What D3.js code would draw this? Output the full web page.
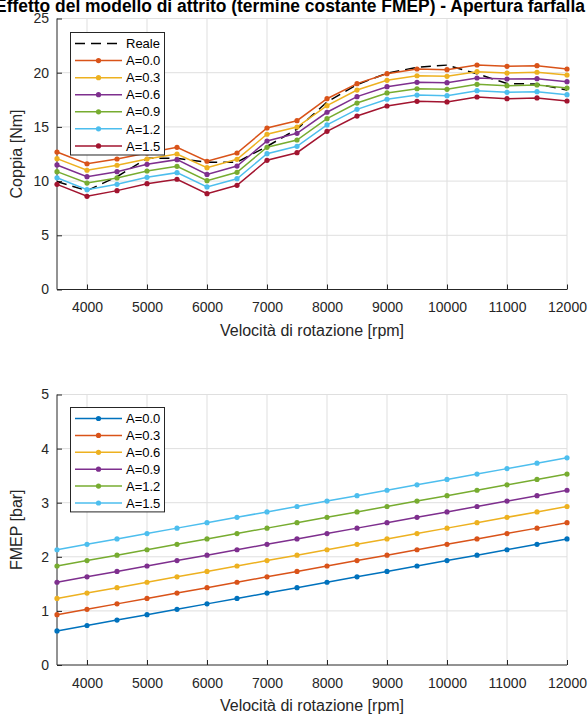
<!DOCTYPE html>
<html>
<head>
<meta charset="utf-8">
<script src="https://cdn.jsdelivr.net/npm/d3@7"></script>
<style>
  html, body { margin: 0; padding: 0; background: #fff; }
  svg { display: block; }
  text { font-family: Arial, "Liberation Sans", Helvetica, sans-serif; }
</style>
</head>
<body>
<svg id="chart" width="588" height="716"></svg>
<script>
// Engine speed sweep [rpm]
const rpm = [3500, 4000, 4500, 5000, 5500, 6000, 6500, 7000, 7500, 8000, 8500, 9000, 9500, 10000, 10500, 11000, 11500, 12000];

// Measured torque [Nm]
const torqueReale = [9.95, 9.12, 10.4, 12.1, 12.1, 11.75, 11.75, 13.2, 14.8, 17.3, 18.9, 19.95, 20.5, 20.7, 19.9, 19.0, 18.95, 18.4];

// Simulated torque [Nm] for each constant friction term A
const torqueA00 = [12.68, 11.60, 12.04, 12.60, 13.12, 11.83, 12.59, 14.90, 15.57, 17.60, 18.99, 19.91, 20.34, 20.28, 20.71, 20.59, 20.65, 20.34];
const torqueA03 = [12.07, 11.00, 11.46, 12.04, 12.50, 11.24, 12.01, 14.32, 14.99, 16.96, 18.40, 19.30, 19.72, 19.67, 20.09, 19.97, 20.04, 19.79];
const torqueA06 = [11.49, 10.41, 10.87, 11.55, 11.98, 10.62, 11.39, 13.70, 14.41, 16.35, 17.79, 18.71, 19.11, 19.08, 19.51, 19.42, 19.45, 19.17];
const torqueA09 = [10.87, 9.82, 10.29, 10.93, 11.36, 10.04, 10.81, 13.12, 13.79, 15.76, 17.20, 18.13, 18.52, 18.47, 18.93, 18.80, 18.87, 18.59];
const torqueA12 = [10.31, 9.21, 9.70, 10.35, 10.78, 9.46, 10.22, 12.53, 13.21, 15.18, 16.62, 17.55, 17.94, 17.88, 18.34, 18.19, 18.25, 17.97];
const torqueA15 = [9.70, 8.60, 9.12, 9.76, 10.17, 8.84, 9.61, 11.92, 12.62, 14.59, 16.00, 16.93, 17.36, 17.30, 17.76, 17.60, 17.67, 17.39];

// Friction mean effective pressure [bar] for each A
const fmepA00 = [0.63, 0.73, 0.83, 0.93, 1.03, 1.13, 1.23, 1.33, 1.43, 1.53, 1.63, 1.73, 1.83, 1.93, 2.03, 2.13, 2.23, 2.33];
const fmepA03 = [0.93, 1.03, 1.13, 1.23, 1.33, 1.43, 1.53, 1.63, 1.73, 1.83, 1.93, 2.03, 2.13, 2.23, 2.33, 2.43, 2.53, 2.63];
const fmepA06 = [1.23, 1.33, 1.43, 1.53, 1.63, 1.73, 1.83, 1.93, 2.03, 2.13, 2.23, 2.33, 2.43, 2.53, 2.63, 2.73, 2.83, 2.93];
const fmepA09 = [1.53, 1.63, 1.73, 1.83, 1.93, 2.03, 2.13, 2.23, 2.33, 2.43, 2.53, 2.63, 2.73, 2.83, 2.93, 3.03, 3.13, 3.23];
const fmepA12 = [1.83, 1.93, 2.03, 2.13, 2.23, 2.33, 2.43, 2.53, 2.63, 2.73, 2.83, 2.93, 3.03, 3.13, 3.23, 3.33, 3.43, 3.53];
const fmepA15 = [2.13, 2.23, 2.33, 2.43, 2.53, 2.63, 2.73, 2.83, 2.93, 3.03, 3.13, 3.23, 3.33, 3.43, 3.53, 3.63, 3.73, 3.83];

// Labels and ticks
const seriesNames = ["A=0.0", "A=0.3", "A=0.6", "A=0.9", "A=1.2", "A=1.5"];
const realName = "Reale";
const xTicks = [4000, 5000, 6000, 7000, 8000, 9000, 10000, 11000, 12000];
const torqueTicks = [0, 5, 10, 15, 20, 25];
const fmepTicks = [0, 1, 2, 3, 4, 5];
const titleText = "Effetto del modello di attrito (termine costante FMEP) - Apertura farfalla";
const xLabel = "Velocità di rotazione [rpm]";
const yLabelTop = "Coppia [Nm]";
const yLabelBottom = "FMEP [bar]";

// Color order
const palette = ["#0072BD", "#D95319", "#EDB120", "#7E2F8E", "#77AC30", "#4DBEEE", "#A2142F"];

const svg = d3.select("#chart");
const axisColor = "#262626";
const gridColor = "#dfdfdf";
const fontStack = "Arial, 'Liberation Sans', Helvetica, sans-serif";

const x = d3.scaleLinear().domain([3500, 12000]).range([57, 567]);

function drawPanel(opts) {
  const { y, yTicks, series, yLabel, legendTop, rowGap } = opts;
  const g = svg.append("g");
  const [x0, x1] = x.range();
  const [yb, yt] = y.range();

  // grid
  g.append("g").selectAll("line").data(xTicks).join("line")
    .attr("x1", d => x(d)).attr("x2", d => x(d))
    .attr("y1", yb).attr("y2", yt)
    .attr("stroke", gridColor).attr("stroke-width", 1);
  g.append("g").selectAll("line").data(yTicks.filter(d => d > 0)).join("line")
    .attr("x1", x0).attr("x2", x1)
    .attr("y1", d => y(d)).attr("y2", d => y(d))
    .attr("stroke", gridColor).attr("stroke-width", 1);

  // axes (ticks point inward)
  const ax = g.append("g").attr("transform", `translate(0,${yb})`)
    .call(d3.axisBottom(x).tickValues(xTicks).tickFormat(d3.format("d"))
      .tickSize(-5).tickSizeOuter(0).tickPadding(13));
  const ay = g.append("g").attr("transform", `translate(${x0},0)`)
    .call(d3.axisLeft(y).tickValues(yTicks).tickFormat(d3.format("d"))
      .tickSize(-5).tickSizeOuter(0).tickPadding(8));
  [ax, ay].forEach(a => {
    a.attr("font-family", null).attr("font-size", null);
    a.select(".domain").attr("stroke", axisColor).attr("stroke-width", 1);
    a.selectAll(".tick line").attr("stroke", axisColor);
    a.selectAll(".tick text").attr("fill", axisColor)
      .style("font-size", "14px").style("font-family", fontStack);
  });
  ax.select(".domain").attr("d", `M${x0},0H${x1}`);
  ay.select(".domain").attr("d", `M0,${yb}V${yt}`);

  // axis labels
  g.append("text").attr("x", (x0 + x1) / 2).attr("y", yb + 46)
    .attr("text-anchor", "middle").attr("fill", axisColor)
    .style("font-size", "16px").text(xLabel);
  g.append("text")
    .attr("transform", `translate(22,${(yb + yt) / 2}) rotate(-90)`)
    .attr("text-anchor", "middle").attr("fill", axisColor)
    .style("font-size", "16px").text(yLabel);

  // lines + markers
  const line = d3.line().x((d, i) => x(rpm[i])).y(d => y(d));
  series.forEach(s => {
    const sg = g.append("g");
    sg.append("path").datum(s.values)
      .attr("d", line).attr("fill", "none")
      .attr("stroke", s.color).attr("stroke-width", 1.5)
      .attr("stroke-dasharray", s.dashed ? "10,6" : null);
    if (!s.dashed) {
      sg.selectAll("circle").data(s.values).join("circle")
        .attr("cx", (d, i) => x(rpm[i])).attr("cy", d => y(d))
        .attr("r", 2.6).attr("fill", s.color);
    }
  });

  // legend
  const lg = g.append("g");
  const lx = 70.5, lw = 94;
  const lh = series.length * rowGap + 3;
  lg.append("rect").attr("x", lx).attr("y", legendTop).attr("width", lw).attr("height", lh)
    .attr("fill", "#fff").attr("stroke", axisColor).attr("stroke-width", 1);
  series.forEach((s, i) => {
    const cy = legendTop + 11 + i * rowGap;
    lg.append("line").attr("x1", 75).attr("x2", 122).attr("y1", cy).attr("y2", cy)
      .attr("stroke", s.color).attr("stroke-width", 1.5)
      .attr("stroke-dasharray", s.dashed ? "10,6" : null);
    if (!s.dashed) {
      lg.append("circle").attr("cx", 98.5).attr("cy", cy).attr("r", 2.6).attr("fill", s.color);
    }
    lg.append("text").attr("x", 126).attr("y", cy).attr("dy", "0.36em")
      .attr("fill", "#000").style("font-size", "13px").text(s.name);
  });
}

const topSeries = [
  { name: realName, values: torqueReale, color: "#000000", dashed: true },
  { name: seriesNames[0], values: torqueA00, color: palette[1] },
  { name: seriesNames[1], values: torqueA03, color: palette[2] },
  { name: seriesNames[2], values: torqueA06, color: palette[3] },
  { name: seriesNames[3], values: torqueA09, color: palette[4] },
  { name: seriesNames[4], values: torqueA12, color: palette[5] },
  { name: seriesNames[5], values: torqueA15, color: palette[6] }
];
const bottomSeries = [
  { name: seriesNames[0], values: fmepA00, color: palette[0] },
  { name: seriesNames[1], values: fmepA03, color: palette[1] },
  { name: seriesNames[2], values: fmepA06, color: palette[2] },
  { name: seriesNames[3], values: fmepA09, color: palette[3] },
  { name: seriesNames[4], values: fmepA12, color: palette[4] },
  { name: seriesNames[5], values: fmepA15, color: palette[5] }
];

drawPanel({
  y: d3.scaleLinear().domain([0, 25]).range([289.5, 18.5]),
  yTicks: torqueTicks, series: topSeries, yLabel: yLabelTop,
  legendTop: 32.5, rowGap: 17.07
});
drawPanel({
  y: d3.scaleLinear().domain([0, 5]).range([665, 394.5]),
  yTicks: fmepTicks, series: bottomSeries, yLabel: yLabelBottom,
  legendTop: 407.5, rowGap: 16.9
});

// figure title: wide bold heading that runs to both page edges
const title = svg.append("text").attr("x", 290).attr("y", 12)
  .attr("text-anchor", "middle").attr("fill", "#000")
  .style("font-size", "14.8px").style("font-weight", "bold")
  .text(titleText);
const tw = title.node().getComputedTextLength();
title.style("font-size", (14.8 * 590 / tw).toFixed(2) + "px");
</script>
</body>
</html>
